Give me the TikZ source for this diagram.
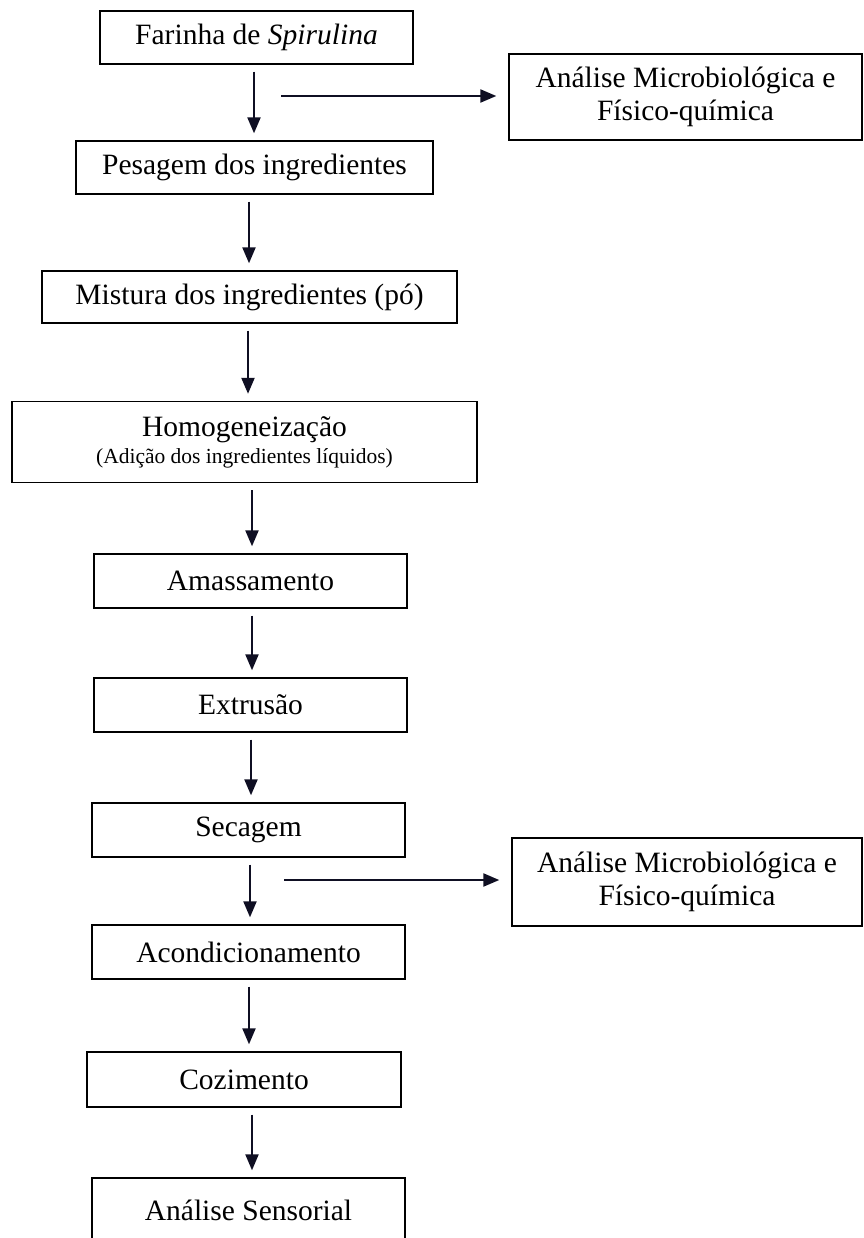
\documentclass[tikz,border=0pt]{standalone}
\usepackage{fontspec}
\setmainfont{Liberation Serif}
\usetikzlibrary{arrows.meta}
\definecolor{arrowc}{RGB}{15,15,35}
\begin{document}
\begin{tikzpicture}[x=1pt,y=-1pt,
  stepbox/.style={draw=black, line width=1.4pt, inner sep=0pt, align=center,
    font=\fontsize{29.5}{33}\selectfont},
  flow/.style={draw=arrowc, line width=2.2pt, shorten <=7pt, shorten >=7pt,
    -{Triangle[length=16pt,width=13pt]}},
  side/.style={draw=arrowc, line width=2.2pt, shorten >=12pt,
    -{Triangle[length=16pt,width=13pt]}}
]
\useasboundingbox (0,0) rectangle (863,1238);
\clip (0,0) rectangle (863,1238);

\node[stepbox, minimum width=313pt, minimum height=53pt] (b1) at (256.5,37.5) {Farinha de \textit{Spirulina}};
\node[stepbox, minimum width=353pt, minimum height=86pt] (r1) at (685.5,97) {Análise Microbiológica e\\Físico-química};
\node[stepbox, minimum width=357pt, minimum height=53pt] (b2) at (254.5,167.5) {Pesagem dos ingredientes};
\node[stepbox, minimum width=415pt, minimum height=52pt] (b3) at (249.5,297) {Mistura dos ingredientes (pó)};
\node[stepbox, minimum width=465pt, minimum height=81pt] (b4) at (244.5,442) {Homogeneização\\[-6pt]{\fontsize{21.5}{24}\selectfont(Adição dos ingredientes líquidos)}};
\node[stepbox, minimum width=313pt, minimum height=54pt] (b5) at (250.5,581) {Amassamento};
\node[stepbox, minimum width=313pt, minimum height=54pt] (b6) at (250.5,705) {Extrusão};
\node[stepbox, minimum width=313pt, minimum height=54pt] (b7) at (248.5,830) {Secagem};
\node[stepbox, minimum width=350pt, minimum height=88pt] (r2) at (687,882) {Análise Microbiológica e\\Físico-química};
\node[stepbox, minimum width=313pt, minimum height=54pt] (b8) at (248.5,952) {Acondicionamento};
\node[stepbox, minimum width=314pt, minimum height=55pt] (b9) at (244,1079.5) {Cozimento};
\node[stepbox, minimum width=313pt, minimum height=64pt] (b10) at (248.5,1210) {Análise Sensorial};

\draw[flow] ([xshift=-2.5pt]b1.south) -- ([xshift=-0.5pt]b2.north);
\draw[flow] ([xshift=-5.5pt]b2.south) -- ([xshift=-0.5pt]b3.north);
\draw[flow] ([xshift=-1.5pt]b3.south) -- ([xshift=3.5pt]b4.north);
\draw[flow] ([xshift=7.5pt]b4.south) -- ([xshift=1.5pt]b5.north);
\draw[flow] ([xshift=1.5pt]b5.south) -- ([xshift=1.5pt]b6.north);
\draw[flow] ([xshift=0.5pt]b6.south) -- ([xshift=2.5pt]b7.north);
\draw[flow] ([xshift=1.5pt]b7.south) -- ([xshift=1.5pt]b8.north);
\draw[flow] ([xshift=0.5pt]b8.south) -- ([xshift=5pt]b9.north);
\draw[flow] ([xshift=8pt]b9.south) -- ([xshift=3.5pt]b10.north);

\coordinate (h1) at (281,96);
\coordinate (h2) at (284,880);
\draw[side] (h1) -- (h1 -| r1.west);
\draw[side] (h2) -- (h2 -| r2.west);
\end{tikzpicture}
\end{document}
